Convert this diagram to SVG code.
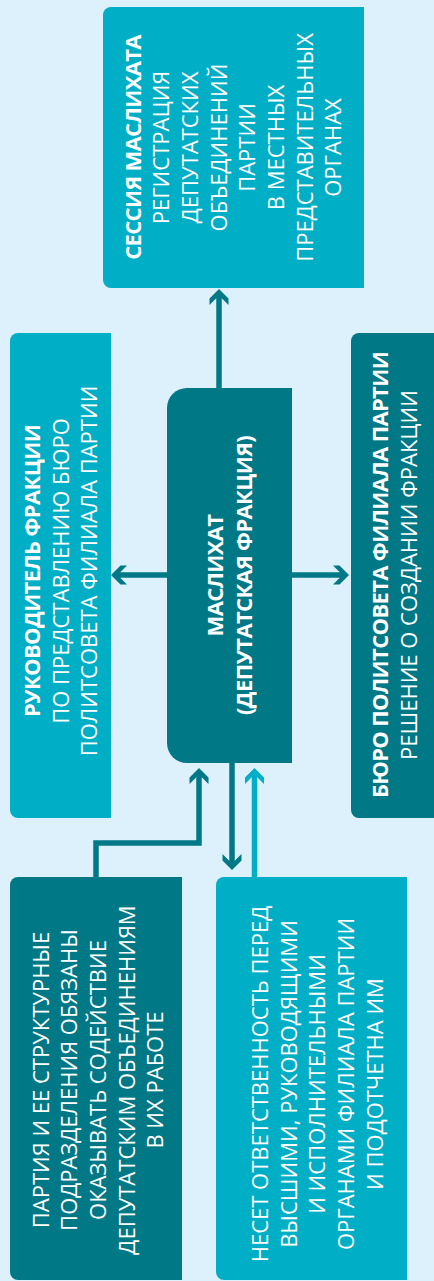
<svg xmlns="http://www.w3.org/2000/svg" xmlns:xlink="http://www.w3.org/1999/xlink" width="434" height="1281" viewBox="0 0 434 1281">
<style>
.bg{fill:#dcf1fb}
.light{fill:#00aec6}
.dark{fill:#007886}
text{font-family:"Open Sans","Noto Sans","Liberation Sans",sans-serif;font-size:22px;fill:#ffffff;text-anchor:middle}
.b{font-weight:bold;letter-spacing:-0.65px}
.cd{stroke:#007886;stroke-width:5.5;fill:none}
.cl{stroke:#00aec6;stroke-width:5.5;fill:none}
</style>
<defs>
<path id="ah" d="M0,0 L9.5,9.5 L9.5,16 L2.75,9.25 L-2.75,9.25 L-9.5,16 L-9.5,9.5 Z"/>
</defs>
<rect class="bg" x="0" y="0" width="434" height="1281"/>

<g id="connectors">
<path class="cd" d="M219,388 V298"/>
<use href="#ah" fill="#007886" transform="translate(219,289)"/>
<path class="cd" d="M167,575 H120"/>
<use href="#ah" fill="#007886" transform="translate(111,575) rotate(-90)"/>
<path class="cd" d="M292,575 H340"/>
<use href="#ah" fill="#007886" transform="translate(349,575) rotate(90)"/>
<path class="cd" d="M96,877 V843 H199 V777"/>
<use href="#ah" fill="#007886" transform="translate(199,768)"/>
<path class="cd" d="M232,763 V861"/>
<use href="#ah" fill="#007886" transform="translate(232,870) rotate(180)"/>
<path class="cl" d="M254.5,877 V777"/>
<use href="#ah" fill="#00aec6" transform="translate(254.5,768)"/>
</g>

<g id="session">
<path class="light" d="M111,7 H364 V288 H111 A8,8 0 0 1 103,280 V15 A8,8 0 0 1 111,7 Z"/>
<text transform="translate(140.5,147.5) rotate(-90)"><tspan class="b" x="0" y="0">СЕССИЯ МАСЛИХАТА</tspan><tspan x="0" dy="28.7">РЕГИСТРАЦИЯ</tspan><tspan x="0" dy="28.7">ДЕПУТАТСКИХ</tspan><tspan x="0" dy="28.7">ОБЪЕДИНЕНИЙ</tspan><tspan x="0" dy="28.7">ПАРТИИ</tspan><tspan x="0" dy="28.7">В МЕСТНЫХ</tspan><tspan x="0" dy="28.7">ПРЕДСТАВИТЕЛЬНЫХ</tspan><tspan x="0" dy="28.7">ОРГАНАХ</tspan></text>
</g>

<g id="leader">
<path class="light" d="M18,333 H111 V818 H18 A8,8 0 0 1 10,810 V341 A8,8 0 0 1 18,333 Z"/>
<text transform="translate(40,571) rotate(-90)"><tspan class="b" x="0" y="0">РУКОВОДИТЕЛЬ ФРАКЦИИ</tspan><tspan x="0" dy="28.7">ПО ПРЕДСТАВЛЕНИЮ БЮРО</tspan><tspan x="0" dy="28.7">ПОЛИТСОВЕТА ФИЛИАЛА ПАРТИИ</tspan></text>
</g>

<g id="maslikhat">
<path class="dark" d="M187,388 H292 V763 H187 A20,20 0 0 1 167,743 V408 A20,20 0 0 1 187,388 Z"/>
<text class="b" transform="translate(223,575.5) rotate(-90)"><tspan x="0" y="0">МАСЛИХАТ</tspan><tspan x="0" dy="28.7">(ДЕПУТАТСКАЯ ФРАКЦИЯ)</tspan></text>
</g>

<g id="bureau">
<path class="dark" d="M359,333 H434 V818 H359 A8,8 0 0 1 351,810 V341 A8,8 0 0 1 359,333 Z"/>
<text transform="translate(388,575) rotate(-90)"><tspan class="b" x="0" y="0">БЮРО ПОЛИТСОВЕТА ФИЛИАЛА ПАРТИИ</tspan><tspan x="0" dy="28.7">РЕШЕНИЕ О СОЗДАНИИ ФРАКЦИИ</tspan></text>
</g>

<g id="party">
<path class="dark" d="M18,877 H182 V1280 H18 A8,8 0 0 1 10,1272 V885 A8,8 0 0 1 18,877 Z"/>
<text transform="translate(48.5,1080) rotate(-90)"><tspan x="0" y="0">ПАРТИЯ И ЕЕ СТРУКТУРНЫЕ</tspan><tspan x="0" dy="28.7">ПОДРАЗДЕЛЕНИЯ ОБЯЗАНЫ</tspan><tspan x="0" dy="28.7">ОКАЗЫВАТЬ СОДЕЙСТВИЕ</tspan><tspan x="0" dy="28.7">ДЕПУТАТСКИМ ОБЪЕДИНЕНИЯМ</tspan><tspan x="0" dy="28.7">В ИХ РАБОТЕ</tspan></text>
</g>

<g id="responsibility">
<path class="light" d="M224,877 H407 V1280 H224 A8,8 0 0 1 216,1272 V885 A8,8 0 0 1 224,877 Z"/>
<text transform="translate(268,1084) rotate(-90)"><tspan x="0" y="0">НЕСЕТ ОТВЕТСТВЕННОСТЬ ПЕРЕД</tspan><tspan x="0" dy="28.7">ВЫСШИМИ, РУКОВОДЯЩИМИ</tspan><tspan x="0" dy="28.7">И ИСПОЛНИТЕЛЬНЫМИ</tspan><tspan x="0" dy="28.7">ОРГАНАМИ ФИЛИАЛА ПАРТИИ</tspan><tspan x="0" dy="28.7">И ПОДОТЧЕТНА ИМ</tspan></text>
</g>
</svg>
